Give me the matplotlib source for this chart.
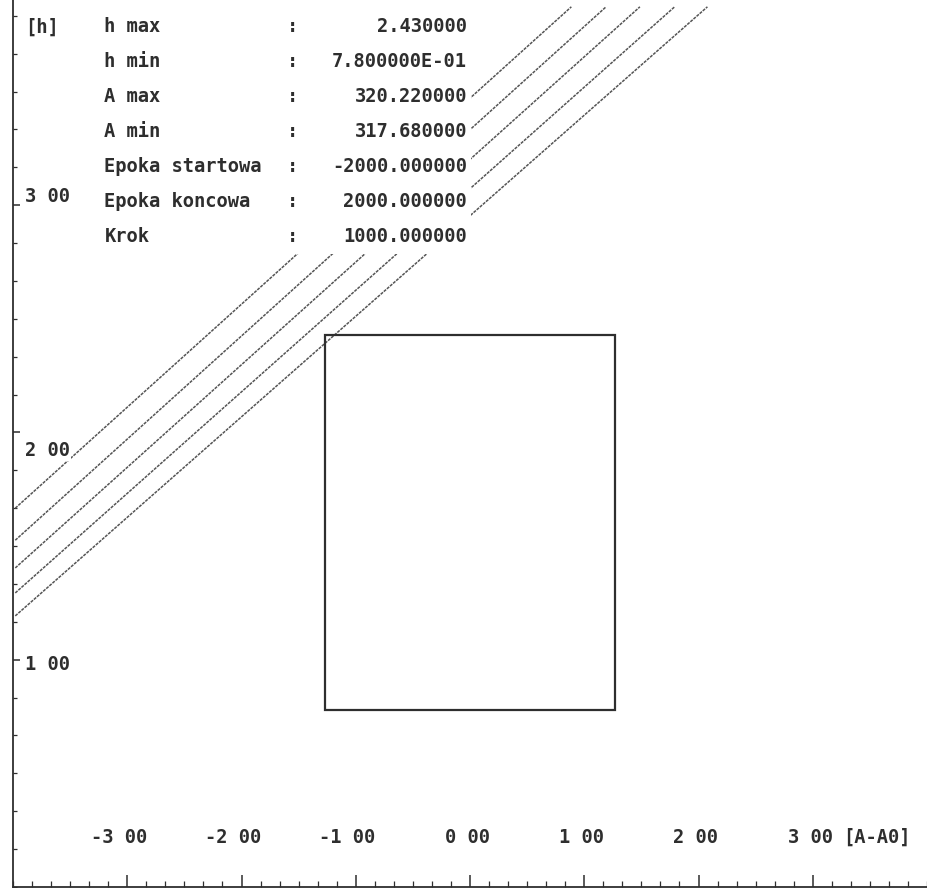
import matplotlib
matplotlib.use("Agg")
import matplotlib.pyplot as plt
from matplotlib.patches import Rectangle
import numpy as np

# parameter table printed in the top-left corner
param_names = ["h max", "h min", "A max", "A min",
               "Epoka startowa", "Epoka koncowa", "Krok"]
param_values = ["2.430000", "7.800000E-01", "320.220000", "317.680000",
                "-2000.000000", "2000.000000", "1000.000000"]

# window (box) in h / A
h_max = 2.43
h_min = 0.78
A_max = 320.22
A_min = 317.68
A0 = (A_max + A_min) / 2.0

# diagonal tracks: start / end points in [A-A0], [h]
track_A_start = [-3.98, -3.98, -3.98, -3.98, -3.98]
track_h_start = [1.667, 1.526, 1.404, 1.294, 1.193]
track_A_end = [0.887, 1.191, 1.487, 1.791, 2.078]
track_h_end = [3.873, 3.873, 3.873, 3.873, 3.873]

x_ticks = [-3, -2, -1, 0, 1, 2, 3]
x_labels = ["-3 00", "-2 00", "-1 00", "0 00", "1 00", "2 00", "3 00"]
y_ticks = [1, 2, 3]
y_labels = ["1 00", "2 00", "3 00"]

INK = "#2e2e2e"
FONT = dict(family="DejaVu Sans Mono", fontsize=13.5, fontweight="bold", color=INK)

fig = plt.figure(figsize=(9.27, 8.88), dpi=100)
ax = fig.add_axes([13 / 927, 1 / 888, 914 / 927, 887 / 888])
ax.set_xlim(-3.983, 3.965)
ax.set_ylim(0.013, 3.903)

for s in ["top", "right"]:
    ax.spines[s].set_visible(False)
for s in ["left", "bottom"]:
    ax.spines[s].set_color(INK)
    ax.spines[s].set_linewidth(1.3)

ax.set_xticks(x_ticks)
ax.set_xticks(np.arange(-24, 25) / 6.0, minor=True)
ax.set_yticks(y_ticks)
ax.set_yticks(np.arange(0, 24) / 6.0, minor=True)
ax.set_xticklabels([])
ax.set_yticklabels([])
ax.tick_params(axis="x", which="major", direction="in", length=9, width=1.1, color=INK)
ax.tick_params(axis="x", which="minor", direction="in", length=4, width=0.9, color=INK)
ax.tick_params(axis="y", which="major", direction="in", length=5, width=1.1, color=INK)
ax.tick_params(axis="y", which="minor", direction="in", length=3, width=0.9, color=INK)

# tracks
for a0, h0, a1, h1 in zip(track_A_start, track_h_start, track_A_end, track_h_end):
    ax.plot([a0, a1], [h0, h1], color="#555555", lw=1.1,
            linestyle=(0, (2.0, 0.7)), zorder=2, clip_on=False)

# window box
ax.add_patch(Rectangle((A_min - A0, h_min), A_max - A_min, h_max - h_min,
                       fill=False, edgecolor=INK, lw=1.6, zorder=3))

# white background behind the parameter block
ax.add_patch(Rectangle((-3.92, 2.785), 3.93, 1.2, facecolor="white",
                       edgecolor="none", zorder=4, clip_on=False))

row_y0 = 3.785
row_dy = 0.154
ax.text(-3.896, row_y0, "[h]", ha="left", va="center", zorder=5, **FONT)
for i, (name, val) in enumerate(zip(param_names, param_values)):
    y = row_y0 - i * row_dy
    ax.text(-3.20, y, name, ha="left", va="center", zorder=5, **FONT)
    ax.text(-1.557, y, ":", ha="center", va="center", zorder=5, **FONT)
    ax.text(-0.026, y, val, ha="right", va="center", zorder=5, **FONT)

# y tick labels (placed as drawn on the original plot)
y_label_shift = {1: -0.02, 2: -0.08, 3: 0.04}
for t, lab in zip(y_ticks, y_labels):
    ax.text(-3.896, t + y_label_shift[t], lab, ha="left", va="center", zorder=5,
            bbox=dict(facecolor="white", edgecolor="none", pad=1), **FONT)

# x tick labels
for t, lab in zip(x_ticks, x_labels):
    ax.text(t + 0.175, 0.22, lab, ha="right", va="center", zorder=5, **FONT)
ax.text(3 + 0.27, 0.22, "[A-A0]", ha="left", va="center", zorder=5, **FONT)

fig.savefig("out.png", dpi=100, facecolor="white")
